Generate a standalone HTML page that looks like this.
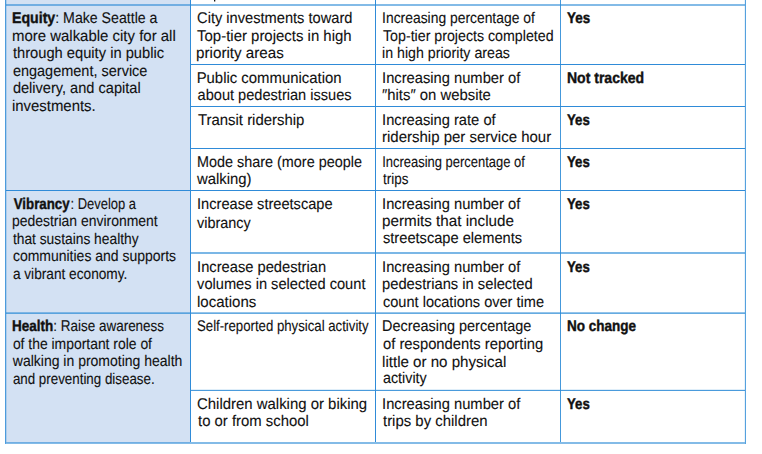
<!DOCTYPE html><html><head><meta charset="utf-8"><style>html,body{margin:0;padding:0;background:#fff;width:762px;height:454px;overflow:hidden}svg{display:block}text{font-family:"Liberation Sans",sans-serif;font-size:15.5px;fill:#111111;text-rendering:geometricPrecision}.b{font-weight:bold}text{stroke:#111111;stroke-width:0.12px}.b{stroke-width:0.40px}</style></head><body><svg width="762" height="454" viewBox="0 0 762 454"><rect x="5" y="0" width="185" height="443" fill="#d3e1f3"/><rect x="190" y="64" width="555" height="1" fill="#2f8bd8"/><rect x="190" y="106" width="555" height="1" fill="#2f8bd8"/><rect x="190" y="148" width="555" height="1" fill="#2f8bd8"/><rect x="6" y="190" width="739" height="1" fill="#2f8bd8"/><rect x="191" y="252" width="554" height="1" fill="rgba(42,138,214,0.62)"/><rect x="191" y="253" width="554" height="1" fill="rgba(42,138,214,0.62)"/><rect x="6" y="312" width="739" height="1" fill="rgba(42,138,214,0.5)"/><rect x="6" y="313" width="739" height="1" fill="rgba(42,138,214,0.72)"/><rect x="191" y="389" width="554" height="1" fill="rgba(42,138,214,0.15)"/><rect x="191" y="390" width="554" height="1" fill="rgba(42,138,214,0.85)"/><rect x="190" y="0" width="1" height="442" fill="#2f8bd8"/><rect x="375" y="0" width="1" height="442" fill="#2f8bd8"/><rect x="560" y="0" width="1" height="442" fill="rgba(42,138,214,0.88)"/><rect x="5" y="0" width="1" height="444" fill="rgba(42,138,214,0.80)"/><rect x="6" y="0" width="1" height="442" fill="rgba(42,138,214,0.22)"/><rect x="745" y="0" width="1" height="444" fill="rgba(42,138,214,0.80)"/><rect x="744" y="0" width="1" height="442" fill="rgba(42,138,214,0.10)"/><rect x="6" y="4" width="739" height="2" fill="rgba(42,138,214,0.58)"/><rect x="6" y="442" width="739" height="2" fill="rgba(42,138,214,0.58)"/><rect x="214" y="0" width="1.3" height="1.5" fill="#111111"/><text transform="translate(11.98,23.10) scale(0.9129,1.0)"><tspan class="b">Equity</tspan>: Make Seattle a</text><text transform="translate(11.93,40.60) scale(0.9653,1.0)">more walkable city for all</text><text transform="translate(12.89,58.40) scale(0.9484,1.0)">through equity in public</text><text transform="translate(12.89,75.90) scale(0.9348,1.0)">engagement, service</text><text transform="translate(12.88,93.40) scale(0.9404,1.0)">delivery, and capital</text><text transform="translate(11.94,110.90) scale(0.9625,1.0)">investments.</text><text transform="translate(13.71,209.20) scale(0.8574,1.0)"><tspan class="b">Vibrancy</tspan></text><text transform="translate(70.43,209.20) scale(0.8369,1.0)">: Develop a</text><text transform="translate(12.00,226.20) scale(0.8994,1.0)">pedestrian environment</text><text transform="translate(12.88,244.10) scale(0.8896,1.0)">that sustains healthy</text><text transform="translate(12.89,261.20) scale(0.9021,1.0)">communities and supports</text><text transform="translate(12.89,278.70) scale(0.8819,1.0)">a vibrant economy.</text><text transform="translate(12.02,331.20) scale(0.8696,1.0)"><tspan class="b">Health</tspan>: Raise awareness</text><text transform="translate(12.89,348.70) scale(0.8969,1.0)">of the important role of</text><text transform="translate(12.79,366.40) scale(0.9029,1.0)">walking in promoting health</text><text transform="translate(12.89,383.90) scale(0.8612,1.0)">and preventing disease.</text><text transform="translate(197.08,23.20) scale(0.9440,1.0)">City investments toward</text><text transform="translate(197.09,40.70) scale(0.9642,1.0)">Top-tier projects in high</text><text transform="translate(196.10,58.00) scale(0.9791,1.0)">priority areas</text><text transform="translate(196.63,82.90) scale(0.9616,1.0)">Public communication</text><text transform="translate(197.59,99.70) scale(0.9406,1.0)">about pedestrian issues</text><text transform="translate(198.00,124.90) scale(0.9617,1.0)">Transit ridership</text><text transform="translate(197.07,166.90) scale(0.9286,1.0)">Mode share (more people</text><text transform="translate(197.01,183.70) scale(0.9596,1.0)">walking)</text><text transform="translate(197.06,208.90) scale(0.9419,1.0)">Increase streetscape</text><text transform="translate(197.06,227.70) scale(0.9298,1.0)">vibrancy</text><text transform="translate(197.05,272.00) scale(0.9479,1.0)">Increase pedestrian</text><text transform="translate(197.08,289.00) scale(0.9441,1.0)">volumes in selected count</text><text transform="translate(197.03,306.50) scale(0.9689,1.0)">locations</text><text transform="translate(196.99,331.20) scale(0.8513,1.0)">Self-reported physical activity</text><text transform="translate(196.99,408.90) scale(0.9632,1.0)">Children walking or biking</text><text transform="translate(198.00,425.70) scale(0.9602,1.0)">to or from school</text><text transform="translate(382.11,23.20) scale(0.8949,1.0)">Increasing percentage of</text><text transform="translate(383.00,40.70) scale(0.9166,1.0)">Top-tier projects completed</text><text transform="translate(382.08,58.00) scale(0.9157,1.0)">in high priority areas</text><text transform="translate(382.05,82.90) scale(0.9491,1.0)">Increasing number of</text><text transform="translate(381.99,99.70) scale(0.9589,1.0)">″hits″ on website</text><text transform="translate(382.05,124.90) scale(0.9485,1.0)">Increasing rate of</text><text transform="translate(382.03,141.70) scale(0.9671,1.0)">ridership per service hour</text><text transform="translate(382.16,166.90) scale(0.8368,1.0)">Increasing percentage of</text><text transform="translate(383.00,183.70) scale(0.8661,1.0)">trips</text><text transform="translate(382.05,208.90) scale(0.9491,1.0)">Increasing number of</text><text transform="translate(382.02,225.70) scale(0.9814,1.0)">permits that include</text><text transform="translate(382.99,242.90) scale(0.9441,1.0)">streetscape elements</text><text transform="translate(382.05,272.00) scale(0.9491,1.0)">Increasing number of</text><text transform="translate(382.05,289.00) scale(0.9502,1.0)">pedestrians in selected</text><text transform="translate(383.00,306.50) scale(0.9391,1.0)">count locations over time</text><text transform="translate(382.07,331.20) scale(0.9310,1.0)">Decreasing percentage</text><text transform="translate(382.99,348.70) scale(0.9529,1.0)">of respondents reporting</text><text transform="translate(382.03,366.70) scale(0.9743,1.0)">little or no physical</text><text transform="translate(382.96,383.20) scale(0.9246,1.0)">activity</text><text transform="translate(382.05,408.90) scale(0.9491,1.0)">Increasing number of</text><text transform="translate(383.00,425.70) scale(0.9629,1.0)">trips by children</text><text transform="translate(567.00,22.90) scale(0.8654,1.0)"><tspan class="b">Yes</tspan></text><text transform="translate(566.97,82.90) scale(0.9048,1.0)"><tspan class="b">Not tracked</tspan></text><text transform="translate(567.00,124.70) scale(0.8537,1.0)"><tspan class="b">Yes</tspan></text><text transform="translate(567.00,166.50) scale(0.8537,1.0)"><tspan class="b">Yes</tspan></text><text transform="translate(567.00,209.00) scale(0.8537,1.0)"><tspan class="b">Yes</tspan></text><text transform="translate(567.00,272.00) scale(0.8537,1.0)"><tspan class="b">Yes</tspan></text><text transform="translate(567.00,330.70) scale(0.8723,1.0)"><tspan class="b">No change</tspan></text><text transform="translate(567.00,408.90) scale(0.8537,1.0)"><tspan class="b">Yes</tspan></text></svg></body></html>
